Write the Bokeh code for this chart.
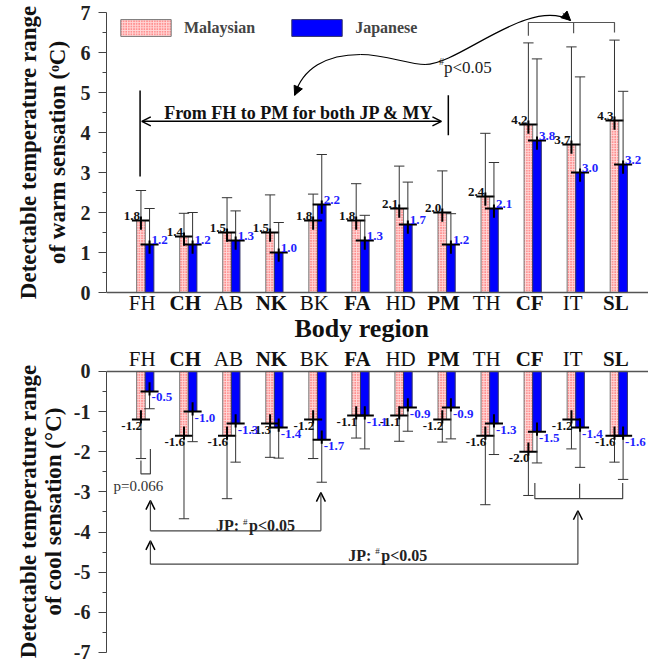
import numpy as np
from bokeh.plotting import figure
from bokeh.layouts import column, row
from bokeh.models import (ColumnDataSource, Range1d, FixedTicker, Span, Legend, LegendItem,
                          Arrow, OpenHead, NormalHead)
from bokeh.core.properties import value, field
from bokeh.embed import file_html
from bokeh.resources import INLINE

# ---------------- data ----------------
regions = ["FH", "CH", "AB", "NK", "BK", "FA", "HD", "PM", "TH", "CF", "IT", "SL"]
region_style = ["normal", "bold", "normal", "bold", "normal", "bold",
                "normal", "bold", "normal", "bold", "normal", "bold"]

warm_my = [1.8, 1.4, 1.5, 1.5, 1.8, 1.8, 2.1, 2.0, 2.4, 4.2, 3.7, 4.3]
warm_jp = [1.2, 1.2, 1.3, 1.0, 2.2, 1.3, 1.7, 1.2, 2.1, 3.8, 3.0, 3.2]
warm_my_upper = [2.55, 1.98, 2.37, 2.44, 2.46, 2.72, 3.16, 3.04, 3.98, 6.24, 6.14, 6.31]
warm_jp_upper = [2.10, 2.00, 2.04, 1.75, 3.45, 1.93, 2.76, 1.97, 3.25, 5.84, 5.39, 5.03]

cool_my = [-1.2, -1.6, -1.6, -1.3, -1.2, -1.1, -1.1, -1.2, -1.6, -2.0, -1.2, -1.6]
cool_jp = [-0.5, -1.0, -1.3, -1.4, -1.7, -1.1, -0.9, -0.9, -1.3, -1.5, -1.4, -1.6]
cool_my_lower = [-2.17, -3.67, -3.17, -2.14, -2.17, -1.66, -1.74, -1.76, -3.32, -3.09, -1.93, -2.26]
cool_jp_lower = [-0.93, -1.75, -2.26, -2.16, -2.76, -1.93, -1.49, -1.68, -2.07, -2.28, -2.39, -2.69]

warm_ticks = [0, 1, 2, 3, 4, 5, 6, 7]
cool_ticks = [0, -1, -2, -3, -4, -5, -6, -7]
cool_tick_labels = {t: f"{t}" for t in cool_ticks}

warm_ylabel = ["Detectable temperature range", "of warm sensation (\u1d52C)"]
cool_ylabel = ["Detectable temperature range", "of cool sensation (\u00b0C)"]

FONT = "Liberation Serif"
MY_LINE = "#777777"
MY_FILL = "#ffd9d9"
MY_HATCH = "#ff2a2a"
JP_BLUE = "#0000ff"
LBL_BLUE = "#1f1fff"

xc = np.arange(1, len(regions) + 1, dtype=float)
xm = xc - 0.1
xj = xc + 0.1
BW = 0.2

LABEL_W = 70
TOP_H = 342
BOT_H = 320


def make_fig(yr, height, ticks, bounds, border_top, overrides=None):
    p = figure(width=648 - LABEL_W, height=height, x_range=Range1d(0.1, 12.69),
               y_range=Range1d(*yr), output_backend="svg", toolbar_location=None,
               x_axis_location=None, min_border_left=104 - LABEL_W, min_border_right=0,
               min_border_top=border_top, min_border_bottom=0)
    p.outline_line_color = None
    p.xgrid.visible = False
    p.ygrid.visible = False
    ax = p.yaxis[0]
    minor = [t + 0.5 for t in range(min(ticks), max(ticks))]
    ax.ticker = FixedTicker(ticks=ticks, minor_ticks=minor)
    if overrides:
        ax.major_label_overrides = overrides
    ax.bounds = bounds
    ax.axis_line_color = "#444444"
    ax.major_tick_line_color = "#444444"
    ax.minor_tick_line_color = "#444444"
    ax.major_tick_out = 8
    ax.major_tick_in = 0
    ax.minor_tick_out = 4
    ax.minor_tick_in = 0
    ax.major_label_standoff = 8
    ax.major_label_text_font = FONT
    ax.major_label_text_font_style = "bold"
    ax.major_label_text_font_size = "20px"
    ax.major_label_text_color = "#222222"
    p.add_layout(Span(location=0, dimension="width", line_color="#555555", line_width=1.5))
    return p


def mean_marks(p, xs, means, ends, up):
    # whisker from mean to the end of SD, with a cap
    p.segment(x0=xs, y0=means, x1=xs, y1=ends, line_color="#333333", line_width=1)
    p.segment(x0=xs - 0.12, y0=ends, x1=xs + 0.12, y1=ends, line_color="#333333", line_width=1)
    # cross at the mean
    m = np.array(means)
    p.segment(x0=xs - 0.21, y0=m, x1=xs + 0.21, y1=m, line_color="black", line_width=2)
    if up:
        p.segment(x0=xs, y0=m - 0.23, x1=xs, y1=m + 0.1, line_color="black", line_width=2)
    else:
        p.segment(x0=xs, y0=m - 0.1, x1=xs, y1=m + 0.23, line_color="black", line_width=2)


def region_labels(p, y):
    src = ColumnDataSource(dict(x=xc, t=regions, s=region_style))
    p.text(x="x", y=y, text="t", source=src, text_font=value(FONT), text_font_style=field("s"),
           text_font_size="21px", text_align="center", text_baseline="middle",
           text_color="#111111", x_offset=-3)


# ---------------- top: warm ----------------
top = make_fig((-1.25, 7.1), TOP_H, warm_ticks, (0, 7), 8)

r_my = top.vbar(x=xm, top=warm_my, width=BW, fill_color=MY_FILL, hatch_pattern="dot",
                hatch_color=MY_HATCH, hatch_scale=2.6, hatch_weight=0.9, line_color=MY_LINE)
r_jp = top.vbar(x=xj, top=warm_jp, width=BW, fill_color=JP_BLUE, line_color="#333366")
mean_marks(top, xm, warm_my, warm_my_upper, True)
mean_marks(top, xj, warm_jp, warm_jp_upper, True)

top.text(x=xm, y=warm_my, text=[f"{v:.1f}" for v in warm_my], text_font=value(FONT),
         text_font_style="bold", text_font_size="13px", text_align="right",
         text_baseline="bottom", x_offset=-1, y_offset=-1, text_color="#111111")
top.text(x=xj, y=warm_jp, text=[f"{v:.1f}" for v in warm_jp], text_font=value(FONT),
         text_font_style="bold", text_font_size="13px", text_align="left",
         text_baseline="bottom", x_offset=2, y_offset=-1, text_color=LBL_BLUE)

region_labels(top, -0.25)
top.text(x=[6.03], y=[-0.9], text=["Body region"], text_font=value(FONT), text_font_style="bold",
         text_font_size="26px", text_align="center", text_baseline="middle", text_color="#111111")

legend = Legend(items=[LegendItem(label="Malaysian", renderers=[r_my]),
                       LegendItem(label="Japanese", renderers=[r_jp])],
                location=(8, 304), orientation="horizontal", margin=0, padding=0,
                spacing=30, glyph_width=63, glyph_height=21, label_standoff=7,
                border_line_color=None, background_fill_alpha=0,
                label_text_font=FONT, label_text_font_style="bold", label_text_font_size="16px")
top.add_layout(legend)

# annotations (top)
top.segment(x0=[0.88, 8.04], y0=[2.9, 3.93], x1=[0.88, 8.04], y1=[5.05, 4.93],
            line_color="black", line_width=1.5)
top.add_layout(Arrow(x_start=0.92, y_start=4.28, x_end=7.88, y_end=4.28, line_width=1.5,
                     start=OpenHead(size=9, line_width=1.5), end=OpenHead(size=9, line_width=1.5)))
top.text(x=[4.57], y=[4.5], text=["From FH to PM for both JP & MY"], text_font=value(FONT),
         text_font_style="bold", text_font_size="18px", text_align="center",
         text_baseline="middle", text_color="#111111")
top.multi_line(xs=[[9.9, 9.9, 11.9, 11.9], [10.95, 10.95]],
               ys=[[6.42, 6.75, 6.75, 6.5], [6.75, 6.48]], line_color="#555555", line_width=1.2)
top.bezier(x0=[4.47, 6.0, 7.5], y0=[4.93, 5.95, 5.7],
           x1=[6.0, 7.5, 10.88], y1=[5.95, 5.7, 6.8],
           cx0=[4.65, 6.6, 8.3], cy0=[5.6, 5.95, 5.7],
           cx1=[5.2, 7.1, 9.9], cy1=[5.95, 5.7, 7.4], line_color="black", line_width=1.2)
top.add_layout(Arrow(x_start=4.56, y_start=5.15, x_end=4.47, y_end=4.93, line_width=1,
                     end=NormalHead(size=9, fill_color="black", line_color="black")))
top.add_layout(Arrow(x_start=10.7, y_start=6.98, x_end=10.88, y_end=6.8, line_width=1,
                     end=NormalHead(size=9, fill_color="black", line_color="black")))
top.text(x=[7.94], y=[5.63], text=["p<0.05"], text_font=value(FONT), text_font_size="17px",
         text_align="left", text_baseline="middle", text_color="#222222")
top.text(x=[7.94], y=[5.63], text=["#"], text_font=value(FONT), text_font_size="10px",
         text_align="right", text_baseline="middle", y_offset=-6, text_color="#222222")

# ---------------- bottom: cool ----------------
bot = make_fig((-7.25, 0.72), BOT_H, cool_ticks, (-7, 0), 0, cool_tick_labels)

bot.vbar(x=xm, top=0, bottom=cool_my, width=BW, fill_color=MY_FILL, hatch_pattern="dot",
         hatch_color=MY_HATCH, hatch_scale=2.6, hatch_weight=0.9, line_color=MY_LINE)
bot.vbar(x=xj, top=0, bottom=cool_jp, width=BW, fill_color=JP_BLUE, line_color="#333366")
mean_marks(bot, xm, cool_my, cool_my_lower, False)
mean_marks(bot, xj, cool_jp, cool_jp_lower, False)

bot.text(x=xm, y=cool_my, text=[f"{v:.1f}" for v in cool_my], text_font=value(FONT),
         text_font_style="bold", text_font_size="13px", text_align="right",
         text_baseline="top", x_offset=1, y_offset=2, text_color="#111111")
bot.text(x=xj, y=cool_jp, text=[f"{v:.1f}" for v in cool_jp], text_font=value(FONT),
         text_font_style="bold", text_font_size="13px", text_align="left",
         text_baseline="top", x_offset=2, y_offset=2, text_color=LBL_BLUE)

region_labels(bot, 0.3)

# annotations (bottom)
bot.text(x=[0.84], y=[-2.86], text=["p=0.066"], text_font=value(FONT), text_font_size="15px",
         text_align="center", text_baseline="middle", text_color="#333333")
bot.multi_line(xs=[[0.9, 0.9, 1.12, 1.12], [10.05, 10.05, 12.09, 12.09], [11.09, 11.09],
                   [1.12, 5.08], [1.12, 11.05]],
               ys=[[-2.22, -2.55, -2.55, -1.93], [-2.78, -3.17, -3.17, -2.78], [-3.17, -2.8],
                   [-3.97, -3.97], [-4.8, -4.8]],
               line_color="#444444", line_width=1.2)
for xa, y0, y1 in [(1.12, -3.97, -3.22), (5.08, -3.97, -3.02),
                   (1.12, -4.8, -4.22), (11.05, -4.8, -3.47)]:
    bot.add_layout(Arrow(x_start=xa, y_start=y0, x_end=xa, y_end=y1, line_width=1.2,
                         line_color="#444444",
                         end=OpenHead(size=9, line_width=1.5, line_color="black")))
for xa, ya in [(3.18, -3.85), (6.25, -4.58)]:
    bot.text(x=[xa], y=[ya], text=["JP:"], text_font=value(FONT), text_font_style="bold",
             text_font_size="16px", text_align="right", text_baseline="middle", text_color="#222222")
    bot.text(x=[xa], y=[ya], text=["#"], text_font=value(FONT), text_font_size="9px",
             text_align="left", text_baseline="middle", x_offset=4, y_offset=-4, text_color="#222222")
    bot.text(x=[xa], y=[ya], text=["p<0.05"], text_font=value(FONT), text_font_style="bold",
             text_font_size="16px", text_align="left", text_baseline="middle", x_offset=10,
             text_color="#222222")

# ---------------- y-axis titles (separate narrow panel) ----------------
H = TOP_H + BOT_H
lab = figure(width=LABEL_W, height=H, x_range=Range1d(0, LABEL_W), y_range=Range1d(0, H),
             output_backend="svg", toolbar_location=None, x_axis_location=None,
             y_axis_location=None, min_border=0)
lab.outline_line_color = None
lab.xgrid.visible = False
lab.ygrid.visible = False
lab_src = ColumnDataSource(dict(
    x=[28, 57, 28, 53],
    y=[H - 152, H - 152, H - 511, H - 511],
    t=warm_ylabel + cool_ylabel))
lab.text(x="x", y="y", text="t", source=lab_src, angle=np.pi / 2, text_font=value(FONT),
         text_font_style="bold", text_font_size="23px", text_align="center",
         text_baseline="middle", text_color="#111111")

layout = row(lab, column(top, bot, spacing=0), spacing=0)
open("out.html", "w").write(file_html(layout, INLINE))
